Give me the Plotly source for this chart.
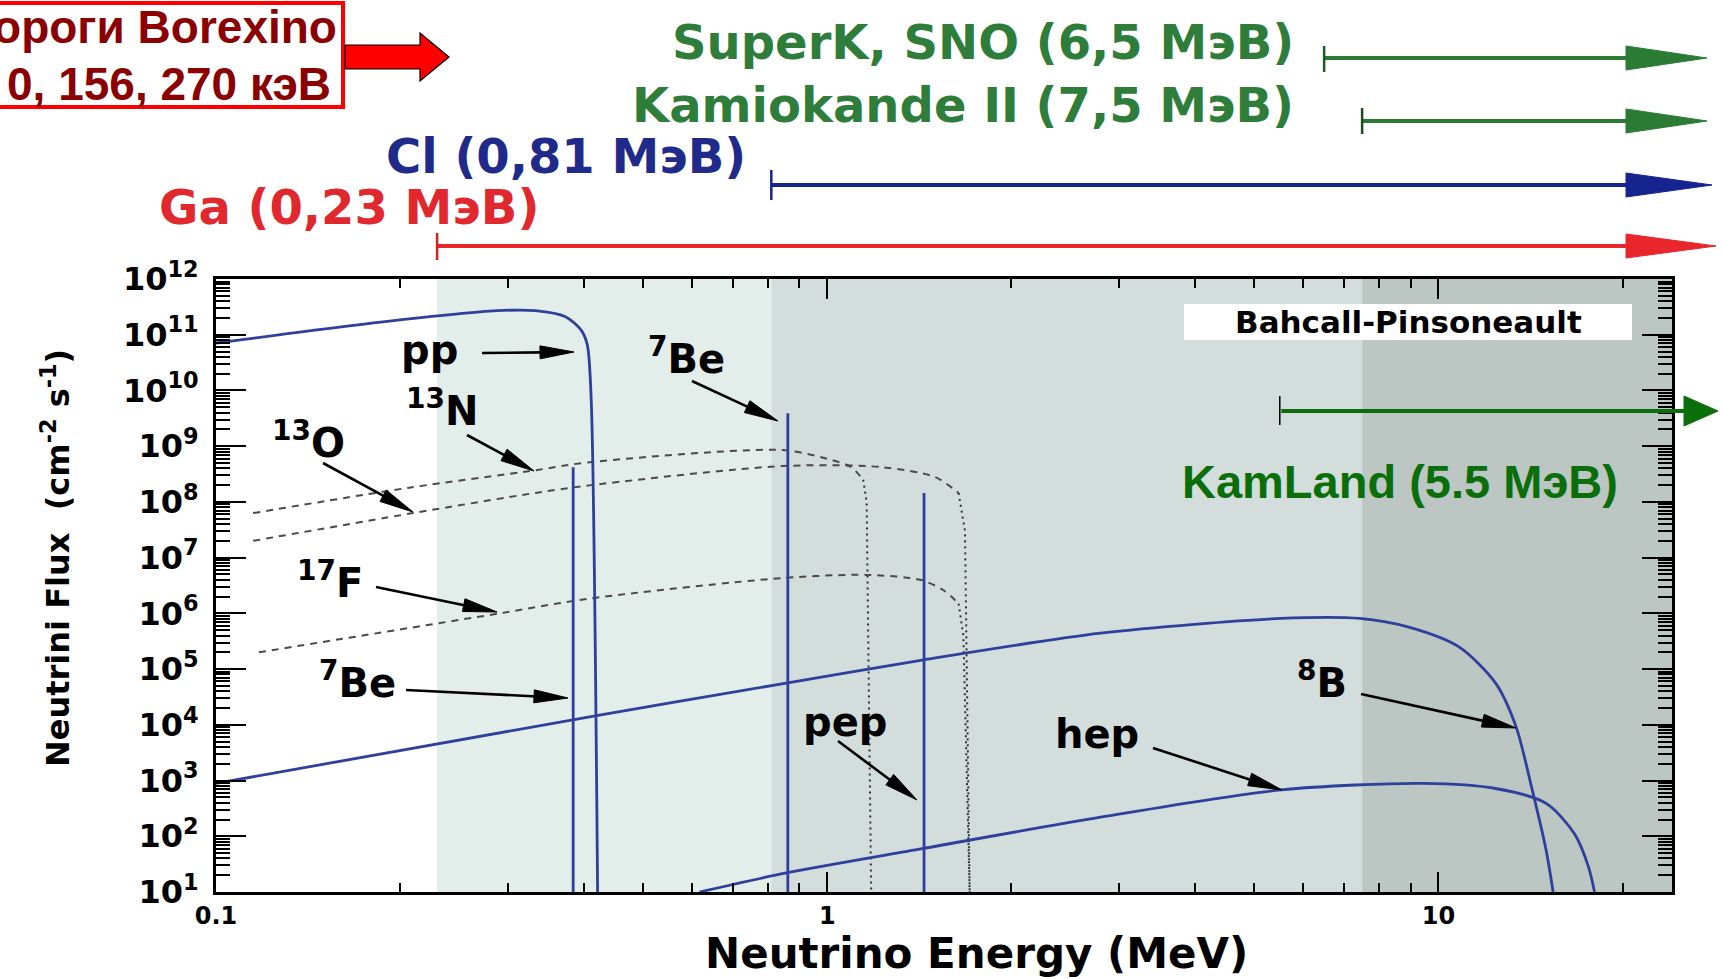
import math
import plotly.graph_objects as go

# ---------------- data ----------------
# Continuum spectra: energy (MeV) and flux as plotted
PP_E = [0.1, 0.1875, 0.288, 0.333, 0.373, 0.396, 0.405, 0.411, 0.421]
PP_F = [7.1e10, 1.7e11, 2.7e11, 2.7e11, 2.1e11, 1.2e11, 6.6e10, 6.8e9, 10]

B8_E = [0.1, 0.424, 0.857, 1.43, 2.80, 5.52, 7.43, 8.97, 10.8, 12.4, 13.4, 14.2, 15.0, 15.4]
B8_F = [8.9e2, 1.5e4, 5.6e4, 1.45e5, 4.4e5, 8.1e5, 8.1e5, 5.6e5, 2.5e5, 5.6e4, 9.1e3, 7.6e2, 56, 10]

HEP_E = [0.618, 0.857, 1.43, 2.80, 5.52, 9.45, 12.4, 15.0, 16.7, 17.6, 18.0]
HEP_F = [10, 22, 60, 220, 680, 890, 720, 390, 110, 28, 10]

# CNO spectra (the last points are the steep fall at the end point)
N13_E = [0.115, 0.207, 0.333, 0.405, 0.844, 1.02, 1.095, 1.145, 1.16, 1.18]
N13_F = [6.3e7, 1.8e8, 3.7e8, 5.1e8, 8.5e8, 5.6e8, 4.2e8, 2.5e8, 1.0e8, 10]

O15_E = [0.115, 0.21, 0.333, 0.411, 0.844, 1.23, 1.50, 1.64, 1.68, 1.71]
O15_F = [2.0e7, 6.3e7, 1.45e8, 2.0e8, 4.4e8, 4.2e8, 2.8e8, 1.45e8, 3.0e7, 10]

F17_E = [0.1175, 0.291, 0.411, 0.844, 1.16, 1.42, 1.55, 1.64, 1.67, 1.71]
F17_F = [2.0e5, 1.0e6, 1.86e6, 4.3e6, 4.9e6, 4.0e6, 2.6e6, 1.5e6, 4.0e5, 10]

# Monoenergetic lines (7Be, 7Be, pep)
LINE_E = [0.384, 0.862, 1.44]
LINE_F = [4.2e8, 3.9e9, 1.44e8]

# Detector thresholds, MeV
THR_NAMES = ["SuperK, SNO", "Kamiokande II", "Cl", "Ga"]
THR_MEV = [6.5, 7.5, 0.81, 0.23]
KAMLAND_MEV = 5.5

# Axes
X_MIN, X_MAX = 0.1, 24.1
Y_MIN_EXP, Y_MAX_EXP = 1, 12
X_TICK_VALS = [0.1, 1, 10]
X_TICK_TEXT = ["0.1", "1", "10"]
Y_TICK_VALS = [10.0 ** n for n in range(Y_MIN_EXP, Y_MAX_EXP + 1)]
Y_TICK_TEXT = ["10<sup>%d</sup>" % n for n in range(Y_MIN_EXP, Y_MAX_EXP + 1)]
X_MINOR = [k * 10.0 ** n for n in (-1, 0) for k in range(2, 10)] + [20]
Y_MINOR = [k * 10.0 ** n for n in range(Y_MIN_EXP, Y_MAX_EXP) for k in range(2, 10)]
FLOOR = 10.0 ** Y_MIN_EXP

# ---------------- layout helpers ----------------
W, H = 1725, 979
PL, PR, PT, PB = 216, 1672, 279, 892


def px(x):
    return (x - PL) / (PR - PL)


def py(y):
    return (PB - y) / (PB - PT)


BLUE = "#2f3f9c"
DASH_GREY = "#4a4a4a"
FONT_FIG = "DejaVu Sans"
FONT_SLIDE = "Liberation Sans, Arial, sans-serif"
LABEL_SIZE = 40

shapes = []
annotations = []


def triangle(tip, base, half_w, color):
    tx, ty = tip
    bx, by = base
    d = math.hypot(tx - bx, ty - by)
    ux, uy = (tx - bx) / d, (ty - by) / d
    nx, ny = -uy, ux
    p1 = (bx + nx * half_w, by + ny * half_w)
    p2 = (bx - nx * half_w, by - ny * half_w)
    path = "M %f,%f L %f,%f L %f,%f Z" % (px(tx), py(ty), px(p1[0]), py(p1[1]), px(p2[0]), py(p2[1]))
    shapes.append(dict(type="path", xref="paper", yref="paper", path=path,
                       fillcolor=color, line=dict(color=color, width=1), layer="above"))


def pointer(tail, head, color="black", width=2.6, head_len=34, head_w=13):
    tx, ty = tail
    hx, hy = head
    d = math.hypot(hx - tx, hy - ty)
    ux, uy = (hx - tx) / d, (hy - ty) / d
    bx, by = hx - ux * head_len, hy - uy * head_len
    shapes.append(dict(type="line", xref="paper", yref="paper",
                       x0=px(tx), y0=py(ty), x1=px(bx + ux * 3), y1=py(by + uy * 3),
                       line=dict(color=color, width=width), layer="above"))
    triangle((hx, hy), (bx, by), head_w / 2, color)


def label(text, x, y, size, color="black", family=FONT_FIG, xanchor="center", angle=0):
    annotations.append(dict(text=text, xref="paper", yref="paper", x=px(x), y=py(y),
                            xanchor=xanchor, yanchor="middle", showarrow=False, textangle=angle,
                            font=dict(family=family, size=size, color=color, weight="bold")))


# ---------------- figure ----------------
fig = go.Figure()

# sensitivity bands behind the spectra (Ga, Cl, water Cherenkov)
band_edges = [THR_MEV[3], THR_MEV[2], THR_MEV[1], X_MAX * 2]
band_colors = ["#e3edea", "#d3dddb", "#bcc6c3"]
for x0, x1, c in zip(band_edges[:-1], band_edges[1:], band_colors):
    shapes.append(dict(type="rect", xref="x", yref="paper", x0=x0, x1=x1, y0=0, y1=1,
                       fillcolor=c, line=dict(width=0), layer="below"))

# CNO spectra: dashed body, dotted end-point fall
for e, f in [(N13_E, N13_F), (O15_E, O15_F), (F17_E, F17_F)]:
    fig.add_trace(go.Scatter(x=e[:-2], y=f[:-2], mode="lines",
                             line=dict(color=DASH_GREY, width=2, dash="7px,6px",
                                       shape="spline", smoothing=0.8)))
    fig.add_trace(go.Scatter(x=e[-3:], y=f[-3:], mode="lines",
                             line=dict(color="#333333", width=2, dash="2px,4px")))

# pp-chain continua
for e, f in [(PP_E, PP_F), (B8_E, B8_F), (HEP_E, HEP_F)]:
    fig.add_trace(go.Scatter(x=e, y=f, mode="lines",
                             line=dict(color=BLUE, width=2.8, shape="spline", smoothing=0.8)))

# line sources
for e, f in zip(LINE_E, LINE_F):
    fig.add_trace(go.Scatter(x=[e, e], y=[f, FLOOR], mode="lines", line=dict(color=BLUE, width=2.8)))

# ---------------- threshold arrows above the plot ----------------
top_rows = [
    dict(tx=1296, ty=42, ay=58, tick=(46, 72), tip=1707, tcol="#2e7d3a", lcol="#2b7b35", kcol="#1f5a26"),
    dict(tx=1296, ty=105, ay=121, tick=(108, 134), tip=1707, tcol="#2e7d3a", lcol="#2b7b35", kcol="#1f4a20"),
    dict(tx=748, ty=156, ay=185, tick=(170, 200), tip=1712, tcol="#1f2a8a", lcol="#16248f", kcol="#16248f"),
    dict(tx=541, ty=207, ay=246, tick=(233, 260), tip=1716, tcol="#e0282e", lcol="#e8262b", kcol="#d02020"),
]
ARROW_END_MEV = 20.5
HEAD_BASE_PX = 1626
for name, thr, row in zip(THR_NAMES, THR_MEV, top_rows):
    txt = "%s (%s МэВ)" % (name, ("%g" % thr).replace(".", ","))
    label(txt, row["tx"], row["ty"], 48, color=row["tcol"], xanchor="right")
    shapes.append(dict(type="line", xref="x", yref="paper", x0=thr, x1=ARROW_END_MEV,
                       y0=py(row["ay"]), y1=py(row["ay"]),
                       line=dict(color=row["lcol"], width=4), layer="above"))
    shapes.append(dict(type="line", xref="x", yref="paper", x0=thr, x1=thr,
                       y0=py(row["tick"][0]), y1=py(row["tick"][1]),
                       line=dict(color=row["kcol"], width=2.5), layer="above"))
    triangle((row["tip"], row["ay"]), (HEAD_BASE_PX, row["ay"]), 12, row["lcol"])

# KamLand threshold arrow inside the plot
KL_COLOR = "#0a6e0a"
KL_Y = 411
annotations.append(dict(text="", xref="x", yref="paper", axref="x", ayref="pixel",
                        x=1.41, y=py(KL_Y), ax=math.log10(KAMLAND_MEV), ay=0,
                        showarrow=True, arrowhead=0, arrowwidth=4, arrowcolor=KL_COLOR))
shapes.append(dict(type="line", xref="x", yref="paper", x0=KAMLAND_MEV, x1=KAMLAND_MEV,
                   y0=py(396), y1=py(425), line=dict(color="black", width=1.5), layer="above"))
triangle((1718, KL_Y), (1684, KL_Y), 15, KL_COLOR)
label("KamLand (%g МэВ)" % KAMLAND_MEV, 1400, 481, 47, color=KL_COLOR, family=FONT_SLIDE)

# Borexino box with block arrow
shapes.append(dict(type="rect", xref="paper", yref="paper", x0=px(-10), x1=px(343), y0=py(107), y1=py(3),
                   fillcolor="white", line=dict(color="#ff0000", width=4), layer="above"))
label("Пороги Borexino", 339, 27, 46, color="#8b0000", family=FONT_SLIDE, xanchor="right")
label("0, 156, 270 кэВ", 333, 84, 46, color="#8b0000", family=FONT_SLIDE, xanchor="right")
block = [(345, 45), (420, 45), (420, 33), (449, 57), (420, 81), (420, 69), (345, 69)]
shapes.append(dict(type="path", xref="paper", yref="paper",
                   path="M " + " L ".join("%f,%f" % (px(a), py(b)) for a, b in block) + " Z",
                   fillcolor="#ff0000", line=dict(color="black", width=1.2), layer="above"))

# Bahcall-Pinsoneault tag
shapes.append(dict(type="rect", xref="paper", yref="paper", x0=px(1184), x1=px(1632), y0=py(340), y1=py(304),
                   fillcolor="white", line=dict(width=0), layer="above"))
label("Bahcall-Pinsoneault", 1408, 322, 31)

# spectrum labels with pointers
label("pp", 429, 350, LABEL_SIZE)
pointer((482, 353), (574, 352))
label("<sup>13</sup>N", 442, 408, LABEL_SIZE)
pointer((467, 435), (534, 471))
label("<sup>13</sup>O", 308, 440, LABEL_SIZE)
pointer((323, 463), (413, 512))
label("<sup>17</sup>F", 330, 580, LABEL_SIZE)
pointer((376, 587), (497, 612))
label("<sup>7</sup>Be", 357, 680, LABEL_SIZE)
pointer((406, 690), (568, 698))
label("<sup>7</sup>Be", 686, 356, LABEL_SIZE)
pointer((692, 381), (778, 421))
label("pep", 845, 722, LABEL_SIZE)
pointer((838, 741), (917, 800))
label("hep", 1097, 734, LABEL_SIZE)
pointer((1153, 748), (1282, 790))
label("<sup>8</sup>B", 1322, 680, LABEL_SIZE)
pointer((1361, 694), (1516, 728))

# axis titles
label("Neutrino Energy (MeV)", 976, 953, 42)
label("Neutrini Flux  (cm<sup>-2</sup> s<sup>-1</sup>)", 56, 558, 32, angle=-90)

axis_common = dict(
    type="log", showgrid=False, zeroline=False, showline=True, linecolor="black", linewidth=3,
    mirror="allticks", ticks="inside", tickcolor="black", tickmode="array",
)

fig.update_layout(
    width=W, height=H, autosize=False,
    margin=dict(l=PL, r=W - PR, t=PT, b=H - PB, pad=0),
    paper_bgcolor="white", plot_bgcolor="white", showlegend=False,
    xaxis=dict(axis_common, range=[math.log10(X_MIN), math.log10(X_MAX)],
               tickvals=X_TICK_VALS, ticktext=X_TICK_TEXT, ticklen=20, tickwidth=2,
               ticklabelstandoff=0,
               tickfont=dict(family=FONT_FIG, size=24, color="black", weight="bold"),
               minor=dict(tickvals=X_MINOR, ticks="inside", ticklen=9, tickwidth=1.5, tickcolor="black")),
    yaxis=dict(axis_common, range=[Y_MIN_EXP, Y_MAX_EXP],
               tickvals=Y_TICK_VALS, ticktext=Y_TICK_TEXT, ticklen=30, tickwidth=2,
               ticklabelstandoff=8,
               tickfont=dict(family=FONT_FIG, size=32, color="black", weight="bold"),
               minor=dict(tickvals=Y_MINOR, ticks="inside", ticklen=14, tickwidth=1.5, tickcolor="black")),
    shapes=shapes,
    annotations=annotations,
)

fig.write_html("out.html")
